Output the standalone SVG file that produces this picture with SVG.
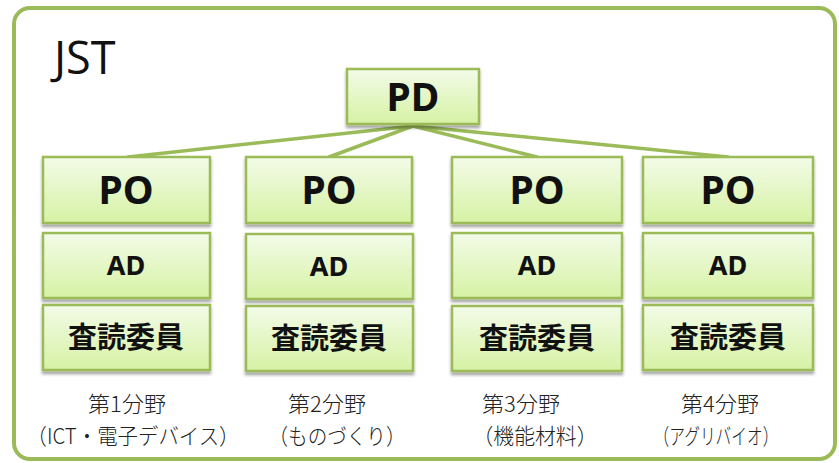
<svg xmlns="http://www.w3.org/2000/svg" width="839" height="463" viewBox="0 0 839 463">
<defs>
<linearGradient id="g" x1="0" y1="0" x2="0" y2="1">
<stop offset="0" stop-color="#f3fbe8"/>
<stop offset="1" stop-color="#d6f2a4"/>
</linearGradient>
<filter id="sh" x="-10%" y="-10%" width="120%" height="140%">
<feGaussianBlur in="SourceAlpha" stdDeviation="1.5"/>
<feOffset dx="0" dy="3" result="b"/>
<feComponentTransfer><feFuncA type="linear" slope="0.35"/></feComponentTransfer>
<feMerge><feMergeNode/><feMergeNode in="SourceGraphic"/></feMerge>
</filter>
</defs>
<style>
.box{fill:url(#g);stroke:#9bbb59;stroke-width:2.5;filter:url(#sh)}
.lbl{font-family:"Noto Sans","Open Sans","Noto Sans CJK JP",sans-serif;font-weight:bold;fill:#111;text-anchor:middle}
.big{font-size:39px}
.mid{font-size:27px}
.jp{font-family:"Noto Sans CJK JP",sans-serif;font-size:29px;font-weight:bold;fill:#111;text-anchor:middle}
.cap{font-family:"Noto Sans CJK JP",sans-serif;font-size:22px;font-weight:300;fill:#222;text-anchor:middle}
.conn{stroke:#9bbb59;stroke-width:3.5;fill:none;stroke-linecap:round}
</style>
<rect x="14" y="8" width="821" height="451" rx="16" fill="#fff" stroke="#9bbb59" stroke-width="4"/>
<text x="54" y="74" font-family="Open Sans, Noto Sans, sans-serif" font-size="45" fill="#111">JST</text>
<g id="connectors">
<line class="conn" x1="413" y1="126" x2="128" y2="157"/>
<line class="conn" x1="413" y1="126" x2="329" y2="157"/>
<line class="conn" x1="413" y1="126" x2="537" y2="157"/>
<line class="conn" x1="413" y1="126" x2="728" y2="157"/>
</g>
<g id="pd"><rect class="box" x="347" y="69" width="132" height="55"/><text class="lbl big" x="413" y="111">PD</text></g>
<g id="po1"><rect class="box" x="43" y="157" width="167" height="66"/><text class="lbl big" x="126" y="204">PO</text></g>
<g id="po2"><rect class="box" x="246" y="157" width="166" height="66"/><text class="lbl big" x="329" y="204">PO</text></g>
<g id="po3"><rect class="box" x="452" y="157" width="170" height="66"/><text class="lbl big" x="537" y="204">PO</text></g>
<g id="po4"><rect class="box" x="643" y="157" width="170" height="66"/><text class="lbl big" x="728" y="204">PO</text></g>
<g id="ad1"><rect class="box" x="43" y="233" width="167" height="65"/><text class="lbl mid" x="126" y="275">AD</text></g>
<g id="ad2"><rect class="box" x="246" y="234" width="167" height="65"/><text class="lbl mid" x="329" y="276">AD</text></g>
<g id="ad3"><rect class="box" x="452" y="233" width="170" height="65"/><text class="lbl mid" x="537" y="275">AD</text></g>
<g id="ad4"><rect class="box" x="643" y="233" width="170" height="65"/><text class="lbl mid" x="728" y="275">AD</text></g>
<g id="r1"><rect class="box" x="43" y="305" width="167" height="65"/><text class="jp" x="126" y="348">査読委員</text></g>
<g id="r2"><rect class="box" x="246" y="306" width="167" height="65"/><text class="jp" x="329" y="349">査読委員</text></g>
<g id="r3"><rect class="box" x="452" y="306" width="170" height="65"/><text class="jp" x="537" y="349">査読委員</text></g>
<g id="r4"><rect class="box" x="643" y="305" width="170" height="65"/><text class="jp" x="728" y="348">査読委員</text></g>
<g id="cap1"><text class="cap" x="127" y="412">第1分野</text><text class="cap" x="133" y="444" textLength="213" lengthAdjust="spacingAndGlyphs">（ICT・電子デバイス）</text></g>
<g id="cap2"><text class="cap" x="327" y="412">第2分野</text><text class="cap" x="337" y="444" textLength="137" lengthAdjust="spacingAndGlyphs">（ものづくり）</text></g>
<g id="cap3"><text class="cap" x="521" y="412">第3分野</text><text class="cap" x="535" y="444" textLength="125" lengthAdjust="spacingAndGlyphs">（機能材料）</text></g>
<g id="cap4"><text class="cap" x="720" y="412">第4分野</text><text class="cap" x="716" y="444" textLength="125" lengthAdjust="spacingAndGlyphs">（アグリバイオ）</text></g>
</svg>
